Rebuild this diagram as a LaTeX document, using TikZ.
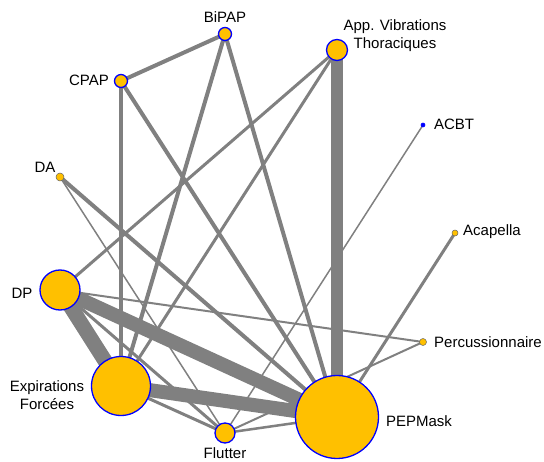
\documentclass[tikz,border=0pt]{standalone}
\usepackage{fontspec}
\setmainfont{Liberation Sans}
\usetikzlibrary{backgrounds}
\definecolor{TrtFill}{RGB}{255,192,0}
\definecolor{TrtEdge}{RGB}{0,0,255}
\definecolor{Link}{RGB}{128,128,128}

\begin{document}
\begin{tikzpicture}[x=1pt,y=-1pt,
  trt/.style={circle,draw=TrtEdge,fill=TrtFill,line width=1.3pt,inner sep=0pt,minimum size=#1},
  small/.style={circle,draw=black!60,fill=TrtFill,line width=0.5pt,inner sep=0pt,minimum size=#1},
  lbl/.style={font=\fontsize{15}{18}\selectfont,inner sep=0pt,align=center},
  link/.style={draw=Link,line width=#1pt}]
  \useasboundingbox (0,0) rectangle (544,462);
  % treatments, sized by number of patients
  \node[trt=13] (bipap) at (225,34) {};
  \node[trt=21] (avt) at (337,50) {};
  \node[trt=13] (cpap) at (121,81) {};
  \node[trt=4,fill=TrtEdge,line width=0.6pt] (acbt) at (423,125) {};
  \node[small=8] (da) at (60,177) {};
  \node[small=6] (acap) at (455,233) {};
  \node[trt=40] (dp) at (60,290) {};
  \node[small=7] (perc) at (423,342) {};
  \node[trt=59] (ef) at (121,386) {};
  \node[trt=20] (flut) at (225,433) {};
  \node[trt=83] (pep) at (337,417) {};
  % labels
  \node[lbl] (bipapL) at (225,17) {BiPAP};
  \node[lbl] (avtL) at (395,36) {App. Vibrations\\Thoraciques};
  \node[lbl] (cpapL) at (89,80) {CPAP};
  \node[lbl] (acbtL) at (454,124) {ACBT};
  \node[lbl] (daL) at (45,167) {DA};
  \node[lbl] (acapL) at (492,232) {Acapella};
  \node[lbl] (dpL) at (22,293) {DP};
  \node[lbl] (percL) at (488,342) {Percussionnaire};
  \node[lbl] (efL) at (47,395) {Expirations\\Forcées};
  \node[lbl] (pepL) at (419,421) {PEPMask};
  \node[lbl] (flutL) at (225,453) {Flutter};
  % comparisons, width = number of studies
  \begin{scope}[on background layer]
    \foreach \a/\b/\w in {bipap/cpap/4,bipap/ef/4,bipap/pep/4,cpap/ef/3.5,cpap/pep/4,
        avt/pep/12,avt/dp/3,avt/ef/3,acbt/flut/1.5,acap/pep/3,da/pep/4,da/flut/1.5,
        dp/ef/15,dp/pep/14,dp/flut/3,dp/perc/2,perc/flut/2,ef/pep/14,ef/flut/3,flut/pep/2.5}
      \draw[link=\w] (\a.center) -- (\b.center);
  \end{scope}
\end{tikzpicture}
\end{document}
